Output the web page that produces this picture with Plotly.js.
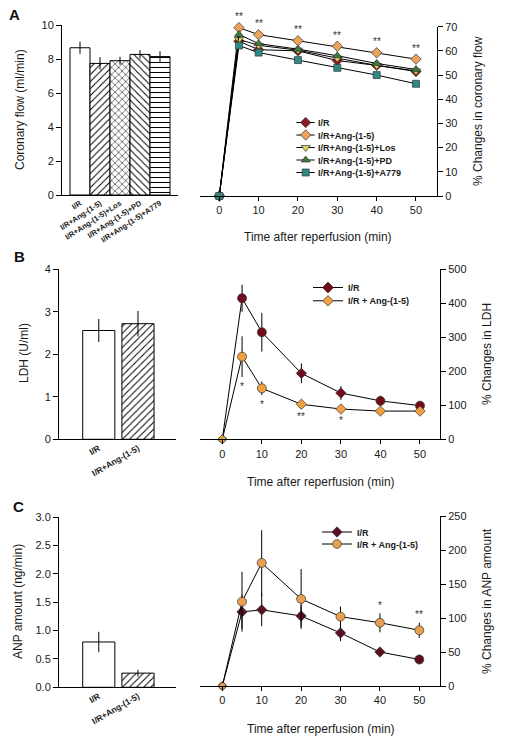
<!DOCTYPE html>
<html>
<head>
<meta charset="utf-8">
<script src="https://cdn.plot.ly/plotly-3.0.1.min.js"></script>
<style>html,body{margin:0;padding:0;background:#fff;}#chart{width:506px;height:748px;}</style>
</head>
<body>
<div id="chart"></div>
<script>
// ---------- data ----------
const timePts = [0, 5, 10, 20, 30, 40, 50];

// Panel A
const cfBarLabels = ["I/R", "I/R+Ang-(1-5)", "I/R+Ang-(1-5)+Los", "I/R+Ang-(1-5)+PD", "I/R+Ang-(1-5)+A779"];
const cfBarValues = [8.66, 7.74, 7.9, 8.27, 8.14];
const cfBarErr = [0.36, 0.37, 0.23, 0.25, 0.31];
const cfIR = [0, 64, 60.5, 60, 56, 54, 51.5];
const cfAng = [0, 69.6, 66.7, 64.2, 61.9, 59.2, 56.6];
const cfLos = [0, 64.7, 62.3, 60.3, 57, 54, 51.7];
const cfPD = [0, 66.8, 63, 60.7, 58, 54.8, 52.3];
const cfA779 = [0, 62.2, 59.3, 56.2, 53, 50, 46.4];
const cfSig = ["", "**", "**", "**", "**", "**", "**"];

// Panel B
const ldhBarLabels = ["I/R", "I/R+Ang-(1-5)"];
const ldhBarValues = [2.56, 2.72];
const ldhBarErr = [0.27, 0.3];
const ldhIR = [0, 415, 315, 194, 136, 113, 99];
const ldhIRErr = [0, 40, 57, 29, 20, 15, 5];
const ldhAng = [0, 243, 150, 103, 89, 83, 83];
const ldhAngErr = [0, 60, 20, 8, 8, 5, 5];
const ldhSig = ["", "*", "*", "**", "*", "", ""];

// Panel C
const anpBarLabels = ["I/R", "I/R+Ang-(1-5)"];
const anpBarValues = [0.8, 0.25];
const anpBarErr = [0.18, 0.06];
const anpIR = [0, 109, 112, 103, 78, 50, 39];
const anpIRErr = [0, 25, 24, 16, 12, 5, 7];
const anpAng = [0, 124, 181, 128, 102, 93, 82];
const anpAngErr = [0, 44, 48, 44, 15, 14, 11];
const anpSig = ["", "", "", "", "", "*", "**"];

// ---------- helpers ----------
const W = 506, H = 748;
const px = v => v / W;
const py = v => 1 - v / H;
const FONT = "Liberation Sans, Arial, sans-serif";

const eb = arr => ({type: "data", array: arr, visible: true, color: "#000", thickness: 1, width: 0});

function lineTrace(y, name, color, symbol, size, xa, ya, legend, err) {
  const t = {
    x: timePts, y: y, name: name, type: "scatter", mode: "lines+markers",
    xaxis: xa, yaxis: ya, legend: legend,
    line: {color: "#000", width: 1},
    marker: {color: color, symbol: symbol, size: size, opacity: 1, line: {color: "#333", width: 0.7}},
    cliponaxis: false
  };
  if (err) t.error_y = eb(err);
  return t;
}

const traces = [];
// A bars
traces.push({
  type: "bar", x: cfBarLabels.map((_, i) => i), y: cfBarValues, xaxis: "x", yaxis: "y", showlegend: false,
  width: 1,
  marker: {color: "#fff", line: {color: "#000", width: 1},
    pattern: {shape: ["", "/", "x", "\\", "-"], fgcolor: "#000", bgcolor: "#fff", size: 5, solidity: 0.2}},
  error_y: eb(cfBarErr)
});
// A lines
traces.push(lineTrace(cfIR, "I/R", "#8b1a22", "diamond", 8, "x2", "y2", "legend"));
traces.push(lineTrace(cfAng, "I/R+Ang-(1-5)", "#eba35a", "diamond", 8, "x2", "y2", "legend"));
traces.push(lineTrace(cfLos, "I/R+Ang-(1-5)+Los", "#e0d45a", "triangle-down", 8, "x2", "y2", "legend"));
traces.push(lineTrace(cfPD, "I/R+Ang-(1-5)+PD", "#3a7d3a", "triangle-up", 8, "x2", "y2", "legend"));
traces.push(lineTrace(cfA779, "I/R+Ang-(1-5)+A779", "#2e8a86", "square", 7, "x2", "y2", "legend"));

// B bars
traces.push({
  type: "bar", x: ldhBarLabels.map((_, i) => i), y: ldhBarValues, xaxis: "x3", yaxis: "y3", showlegend: false,
  width: 0.82,
  marker: {color: "#fff", line: {color: "#000", width: 1},
    pattern: {shape: ["", "/"], fgcolor: "#000", bgcolor: "#fff", size: 5, solidity: 0.2}},
  error_y: eb(ldhBarErr)
});
traces.push(lineTrace(ldhIR, "I/R", "#720c1c",
  ["diamond", "circle", "circle", "diamond", "diamond", "circle", "circle"], [7, 9, 9, 8, 8, 9, 9], "x4", "y4", "legend2", ldhIRErr));
traces.push(lineTrace(ldhAng, "I/R + Ang-(1-5)", "#f0a040",
  ["diamond", "circle", "circle", "diamond", "diamond", "diamond", "diamond"], [7, 9, 9, 8, 8, 8, 8], "x4", "y4", "legend2", ldhAngErr));

// C bars
traces.push({
  type: "bar", x: anpBarLabels.map((_, i) => i), y: anpBarValues, xaxis: "x5", yaxis: "y5", showlegend: false,
  width: 0.82,
  marker: {color: "#fff", line: {color: "#000", width: 1},
    pattern: {shape: ["", "/"], fgcolor: "#000", bgcolor: "#fff", size: 5, solidity: 0.2}},
  error_y: eb(anpBarErr)
});
traces.push(lineTrace(anpIR, "I/R", "#5a1020",
  ["diamond", "diamond", "diamond", "diamond", "diamond", "diamond", "circle"], [7, 8, 8, 8, 8, 8, 9], "x6", "y6", "legend3", anpIRErr));
traces.push(lineTrace(anpAng, "I/R + Ang-(1-5)", "#e8a050", "circle", [7, 9, 9, 9, 9, 9, 9], "x6", "y6", "legend3", anpAngErr));

// ---------- axes ----------
const tickFont = {family: FONT, size: 11, color: "#1a1a1a"};
const baseY = {showgrid: false, zeroline: false, showline: true, linecolor: "#000", linewidth: 1,
  ticks: "outside", ticklen: 5, tickcolor: "#000", tickfont: tickFont};
const baseX = {showgrid: false, zeroline: false, showline: true, linecolor: "#000", linewidth: 1, tickfont: tickFont};
const legFont = {family: FONT, size: 9, color: "#1a1a1a", weight: "bold"};
const catFontA = {family: FONT, size: 7.6, color: "#1a1a1a", weight: "bold"};
const catFontBC = {family: FONT, size: 8.5, color: "#1a1a1a", weight: "bold"};

const layout = {
  width: W, height: H, margin: {l: 0, r: 0, t: 0, b: 0},
  paper_bgcolor: "#fff", plot_bgcolor: "rgba(0,0,0,0)",
  font: {family: FONT, color: "#1a1a1a"},
  bargap: 0,
  // A bar
  xaxis: Object.assign({}, baseX, {domain: [px(62), px(178)], anchor: "y", range: [-0.9, 4.9],
    tickmode: "array", tickvals: [0, 1, 2, 3, 4], ticktext: cfBarLabels, ticks: "", tickangle: -33,
    tickfont: catFontA}),
  yaxis: Object.assign({}, baseY, {domain: [py(195), py(25)], anchor: "x", range: [0, 10], dtick: 2}),
  // A line
  xaxis2: Object.assign({}, baseX, {domain: [px(200), px(437)], anchor: "y2", range: [-4.9, 55.34],
    tickvals: [0, 10, 20, 30, 40, 50], ticks: "outside", ticklen: 4, tickcolor: "#000"}),
  yaxis2: Object.assign({}, baseY, {domain: [py(196), py(26.7)], anchor: "x2", side: "right", range: [0, 70], dtick: 10}),
  // B bar
  xaxis3: Object.assign({}, baseX, {domain: [px(59), px(176)], anchor: "y3", range: [-1.015, 1.97],
    tickmode: "array", tickvals: [0, 1], ticktext: ldhBarLabels, ticks: "", tickangle: -30,
    tickfont: catFontBC}),
  yaxis3: Object.assign({}, baseY, {domain: [py(439.3), py(269.3)], anchor: "x3", range: [0, 4], dtick: 1}),
  // B line
  xaxis4: Object.assign({}, baseX, {domain: [px(200), px(440)], anchor: "y4", range: [-5.64, 55.06],
    tickvals: [0, 10, 20, 30, 40, 50], ticks: "outside", ticklen: 4, tickcolor: "#000"}),
  yaxis4: Object.assign({}, baseY, {domain: [py(439.3), py(269.3)], anchor: "x4", side: "right", range: [0, 500], dtick: 100}),
  // C bar
  xaxis5: Object.assign({}, baseX, {domain: [px(59), px(176)], anchor: "y5", range: [-1.015, 1.97],
    tickmode: "array", tickvals: [0, 1], ticktext: anpBarLabels, ticks: "", tickangle: -30,
    tickfont: catFontBC}),
  yaxis5: Object.assign({}, baseY, {domain: [py(687.3), py(517.3)], anchor: "x5", range: [0, 3], dtick: 0.5, tickformat: ".1f"}),
  // C line
  xaxis6: Object.assign({}, baseX, {domain: [px(200), px(440)], anchor: "y6", range: [-5.66, 55.25],
    tickvals: [0, 10, 20, 30, 40, 50], ticks: "outside", ticklen: 4, tickcolor: "#000"}),
  yaxis6: Object.assign({}, baseY, {domain: [py(686), py(516)], anchor: "x6", side: "right", range: [0, 250], dtick: 50}),
  legend: {x: px(278), y: py(108), xanchor: "left", yanchor: "top", bgcolor: "rgba(0,0,0,0)", font: legFont, tracegroupgap: 0},
  legend2: {x: px(308), y: py(273), xanchor: "left", yanchor: "top", bgcolor: "rgba(0,0,0,0)", font: legFont},
  legend3: {x: px(317), y: py(517.5), xanchor: "left", yanchor: "top", bgcolor: "rgba(0,0,0,0)", font: legFont},
  annotations: [],
  showlegend: true
};

const ann = layout.annotations;
function txt(x, y, text, opts) {
  ann.push(Object.assign({xref: "paper", yref: "paper", x: px(x), y: py(y), text: text, showarrow: false,
    xanchor: "center", yanchor: "middle",
    font: {family: FONT, size: 12, color: "#1a1a1a"}}, opts || {}));
}
// panel letters
txt(14, 15, "<b>A</b>", {font: {family: FONT, size: 15, color: "#111"}});
txt(19, 257, "<b>B</b>", {font: {family: FONT, size: 15, color: "#111"}});
txt(18, 506, "<b>C</b>", {font: {family: FONT, size: 15, color: "#111"}});
// axis titles
txt(20, 110, "Coronary flow (ml/min)", {textangle: -90});
txt(24, 353, "LDH (U/ml)", {textangle: -90});
txt(18, 602, "ANP amount (ng/min)", {textangle: -90});
txt(478, 111, "% Changes in coronary flow", {textangle: -90});
txt(487, 354, "% Changes in LDH", {textangle: -90});
txt(487, 601, "% Changes in ANP amount", {textangle: -90});
txt(318, 237, "Time after reperfusion (min)");
txt(321, 482, "Time after reperfusion (min)");
txt(321, 729, "Time after reperfusion (min)");

// significance markers
const sigFont = {family: FONT, size: 10, color: "#333"};
timePts.forEach((t, i) => {
  if (cfSig[i]) ann.push({xref: "x2", yref: "y2", x: t, y: cfAng[i], text: cfSig[i], showarrow: false, yshift: 11, font: sigFont});
  if (ldhSig[i]) ann.push({xref: "x4", yref: "y4", x: t, y: ldhAng[i] - ldhAngErr[i], text: ldhSig[i], showarrow: false, yshift: -9, font: sigFont});
  if (anpSig[i]) ann.push({xref: "x6", yref: "y6", x: t, y: anpAng[i] + anpAngErr[i], text: anpSig[i], showarrow: false, yshift: 8, font: sigFont});
});

// compact legend rows (row pitch and short sample line as in the original figure)
// offsets are measured leftwards from the start of the legend text
const legendStyle = {
  legend: {gap: 12.5, l0: 21.6, l1: 3.3, mx: 12.3},
  legend2: {gap: 13.3, l0: 25.3, l1: 6.6, mx: 15.6},
  legend3: {gap: 12, l0: 25, l1: 6.7, mx: 15}
};

function centerX(el) { const r = el.getBoundingClientRect(); return (r.left + r.right) / 2; }

Plotly.newPlot("chart", traces, layout, {staticPlot: true, displayModeBar: false}).then(gd => {
  Object.keys(legendStyle).forEach(id => {
    const c = legendStyle[id];
    const g = gd.querySelector("g." + id);
    if (!g) return;
    const items = g.querySelectorAll("g.traces");
    let y0 = null;
    items.forEach((it, i) => {
      const m = /translate\(\s*([-\d.e]+)[ ,]+([-\d.e]+)\s*\)/.exec(it.getAttribute("transform") || "");
      if (!m) return;
      if (i === 0) y0 = parseFloat(m[2]);
      it.setAttribute("transform", "translate(" + parseFloat(m[1]) + "," + (y0 + i * c.gap) + ")");
      const tx = it.querySelector("text.legendtext");
      if (!tx) return;
      const textLeft = tx.getBoundingClientRect().left;
      // sample line
      it.querySelectorAll("path.js-line").forEach(p => {
        p.setAttribute("d", "M0,0h1");
        const base = p.getBoundingClientRect().left;
        const start = (textLeft - c.l0) - base;
        p.setAttribute("d", "M" + start + ",0h" + (c.l0 - c.l1));
      });
      // marker
      it.querySelectorAll("g.legendpoints path").forEach(p => {
        const cur = centerX(p);
        const want = textLeft - c.mx;
        const mm = /translate\(\s*([-\d.e]+)[ ,]+([-\d.e]+)\s*\)/.exec(p.getAttribute("transform") || "");
        const tx0 = mm ? parseFloat(mm[1]) : 0;
        const ty0 = mm ? parseFloat(mm[2]) : 0;
        p.setAttribute("transform", "translate(" + (tx0 + want - cur) + "," + ty0 + ")");
      });
    });
  });
});
</script>
</body>
</html>
